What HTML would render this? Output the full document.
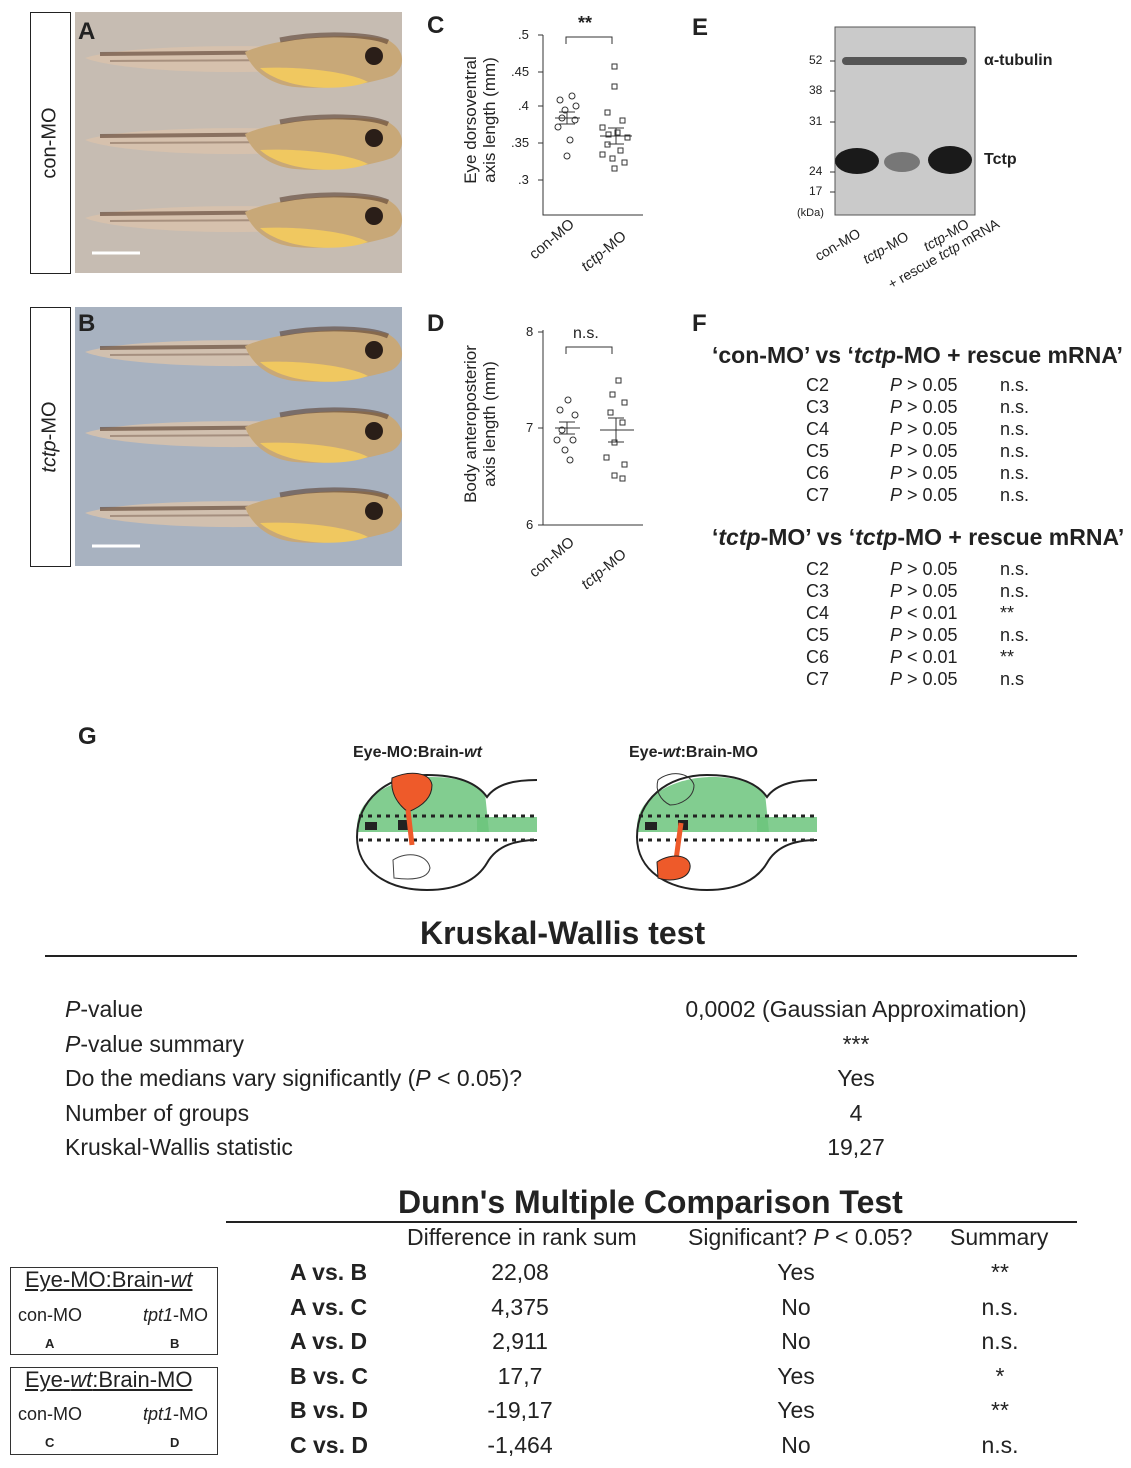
<!DOCTYPE html>
<html><head><meta charset="utf-8"><style>
body{margin:0;width:1131px;height:1468px;background:#fff;position:relative;font-family:"Liberation Sans",sans-serif;color:#222;overflow:hidden}
.a{position:absolute;white-space:nowrap}
.b{font-weight:bold}
.L{font-size:24px;font-weight:bold}
.f{font-size:16px}
.t{font-size:23px}
</style></head><body>
<svg class="a" style="left:0;top:0" width="1131" height="1468">
<defs>
<g id="tad">
<path d="M5,0 C40,-12 160,-14 230,-10 L240,10 C170,18 40,14 5,0Z" fill="#d8c2ac" opacity="0.85"/>
<path d="M20,-4 L240,-6" stroke="#6a5040" stroke-width="4" opacity="0.7"/>
<path d="M30,3 L220,2" stroke="#7a6050" stroke-width="2" opacity="0.5"/>
<path d="M165,-6 C200,-22 280,-26 308,-18 C326,-8 326,10 312,18 C290,26 250,32 215,29 C185,26 170,8 165,-6Z" fill="#c8a878"/>
<path d="M180,10 C205,32 260,34 288,24 C270,14 220,8 180,10Z" fill="#f0c860"/>
<path d="M200,-18 C240,-26 290,-24 308,-16" stroke="#5a4030" stroke-width="5" fill="none" opacity="0.6"/>
<circle cx="294" cy="-2" r="9" fill="#2a1e18"/>
</g>
<g id="fish">
<path d="M0,52 C0,20 40,2 75,2 C100,2 120,8 128,18 L132,57 L0,57Z" fill="#6cc47c" opacity="0.85"/>
<rect x="120" y="42" width="60" height="15" fill="#6cc47c" opacity="0.85"/>
<path d="M180,5 C160,5 140,8 130,22 C120,8 100,0 70,0 C30,0 0,25 0,62 C0,95 30,115 70,115 C100,115 120,105 130,88 C140,70 160,65 180,65" stroke="#222" stroke-width="2" fill="none"/>
<path d="M2,41H180M2,65H180" stroke="#222" stroke-dasharray="4 5" stroke-width="3"/>
<rect x="8" y="47" width="12" height="8" fill="#222"/><rect x="41" y="45" width="10" height="10" fill="#222"/>
</g>
</defs>
<rect x="75" y="12" width="327" height="261" fill="#c6bcb2"/>
<g transform="translate(80,58)"><use href="#tad"/></g>
<g transform="translate(80,140)"><use href="#tad"/></g>
<g transform="translate(80,218)"><use href="#tad"/></g>
<line x1="92" y1="253" x2="140" y2="253" stroke="#fff" stroke-width="3"/>
<rect x="75" y="307" width="327" height="259" fill="#a8b2c0"/>
<g transform="translate(80,352)"><use href="#tad"/></g>
<g transform="translate(80,433)"><use href="#tad"/></g>
<g transform="translate(80,513)"><use href="#tad"/></g>
<line x1="92" y1="546" x2="140" y2="546" stroke="#fff" stroke-width="3"/>
<rect x="30.5" y="12.5" width="40" height="261" fill="none" stroke="#222"/>
<rect x="30.5" y="307.5" width="40" height="259" fill="none" stroke="#222"/>
<g stroke="#333" fill="none">
<path d="M543,35 V215 H643"/>
<path d="M538,35H543M538,72H543M538,106H543M538,143H543M538,180H543"/>
<path d="M566,44V37H612V44"/>
<path d="M555,118H580M567,112V124M559,112H575M559,124H575"/>
<path d="M600,136H632M616,128V144M608,128H624M608,144H624"/>
<circle cx="560" cy="100" r="3"/><circle cx="572" cy="96" r="3"/><circle cx="565" cy="110" r="3"/><circle cx="575" cy="120" r="3"/><circle cx="558" cy="127" r="3"/><circle cx="570" cy="140" r="3"/><circle cx="567" cy="156" r="3"/><circle cx="562" cy="118" r="3"/><circle cx="576" cy="106" r="3"/>
<rect x="612" y="64" width="5" height="5"/><rect x="612" y="84" width="5" height="5"/><rect x="605" y="110" width="5" height="5"/><rect x="620" y="118" width="5" height="5"/><rect x="600" y="125" width="5" height="5"/><rect x="615" y="130" width="5" height="5"/><rect x="625" y="135" width="5" height="5"/><rect x="605" y="142" width="5" height="5"/><rect x="618" y="148" width="5" height="5"/><rect x="610" y="156" width="5" height="5"/><rect x="622" y="160" width="5" height="5"/><rect x="600" y="152" width="5" height="5"/><rect x="612" y="166" width="5" height="5"/><rect x="606" y="132" width="5" height="5"/>
</g>
<g stroke="#333" fill="none">
<path d="M543,330 V525 H643"/>
<path d="M538,332H543M538,428H543M538,525H543"/>
<path d="M566,354V347H612V354"/>
<path d="M555,428H580M567,422V434M559,422H575M559,434H575"/>
<path d="M600,430H634M616,418V442M608,418H624M608,442H624"/>
<circle cx="568" cy="400" r="3"/><circle cx="560" cy="410" r="3"/><circle cx="575" cy="415" r="3"/><circle cx="562" cy="430" r="3"/><circle cx="573" cy="440" r="3"/><circle cx="565" cy="450" r="3"/><circle cx="570" cy="460" r="3"/><circle cx="557" cy="440" r="3"/>
<rect x="616" y="378" width="5" height="5"/><rect x="610" y="392" width="5" height="5"/><rect x="622" y="400" width="5" height="5"/><rect x="608" y="410" width="5" height="5"/><rect x="620" y="420" width="5" height="5"/><rect x="612" y="440" width="5" height="5"/><rect x="604" y="455" width="5" height="5"/><rect x="622" y="462" width="5" height="5"/><rect x="612" y="473" width="5" height="5"/><rect x="620" y="476" width="5" height="5"/>
</g>
<rect x="835" y="27" width="140" height="188" fill="#cacaca" stroke="#555"/>
<rect x="842" y="57" width="125" height="8" rx="4" fill="#555"/>
<ellipse cx="857" cy="161" rx="22" ry="13" fill="#1a1a1a"/>
<ellipse cx="902" cy="162" rx="18" ry="10" fill="#777"/>
<ellipse cx="950" cy="160" rx="22" ry="14" fill="#1a1a1a"/>
<g stroke="#333"><path d="M830,61H835M830,91H835M830,122H835M830,172H835M830,192H835"/></g>
<g transform="translate(357,775)"><use href="#fish"/></g>
<g transform="translate(637,775)"><use href="#fish"/></g>
<path d="M392,778 C410,770 430,772 432,785 C432,800 418,808 408,812 C400,806 390,795 392,778Z" fill="#ee5a2a" stroke="#222"/>
<path d="M408,810 L412,845" stroke="#ee5a2a" stroke-width="5"/>
<path d="M393,860 C408,850 428,855 430,868 C428,880 410,880 394,878Z" fill="#fff" stroke="#444"/>
<path d="M658,780 C670,770 690,772 694,785 C694,798 680,805 670,805 C660,800 655,790 658,780Z" fill="none" stroke="#333"/>
<path d="M681,823 L676,860" stroke="#ee5a2a" stroke-width="5"/>
<path d="M657,862 C672,852 692,855 690,868 C688,880 670,882 658,878Z" fill="#ee5a2a" stroke="#222"/>
<line x1="45" y1="956" x2="1077" y2="956" stroke="#222" stroke-width="2"/>
<line x1="226" y1="1222" x2="1077" y2="1222" stroke="#222" stroke-width="2"/>
<rect x="10.5" y="1267.5" width="207" height="87" fill="none" stroke="#333"/>
<rect x="10.5" y="1367.5" width="207" height="87" fill="none" stroke="#333"/>
</svg>
<div class="a L" style="left:78px;top:18px">A</div>
<div class="a L" style="left:78px;top:310px">B</div>
<div class="a L" style="left:427px;top:12px">C</div>
<div class="a L" style="left:427px;top:310px">D</div>
<div class="a L" style="left:692px;top:14px">E</div>
<div class="a L" style="left:692px;top:310px">F</div>
<div class="a L" style="left:78px;top:723px">G</div>
<div class="a" style="font-size:20px;left:50px;top:143px;transform:translate(-50%,-50%) rotate(-90deg)">con-MO</div>
<div class="a" style="font-size:20px;left:50px;top:437px;transform:translate(-50%,-50%) rotate(-90deg)"><i>tctp</i>-MO</div>
<div class="a" style="font-size:17px;left:480px;top:120px;transform:translate(-50%,-50%) rotate(-90deg);text-align:center;line-height:19px">Eye dorsoventral<br>axis length (mm)</div>
<div class="a" style="font-size:17px;left:480px;top:424px;transform:translate(-50%,-50%) rotate(-90deg);text-align:center;line-height:19px">Body anteroposterior<br>axis length (mm)</div>
<div class="a" style="font-size:13px;left:518px;top:27px">.5</div>
<div class="a" style="font-size:13px;left:511px;top:64px">.45</div>
<div class="a" style="font-size:13px;left:518px;top:98px">.4</div>
<div class="a" style="font-size:13px;left:511px;top:135px">.35</div>
<div class="a" style="font-size:13px;left:518px;top:172px">.3</div>
<div class="a b" style="font-size:18px;left:578px;top:13px">**</div>
<div class="a" style="font-size:13px;left:526px;top:324px">8</div>
<div class="a" style="font-size:13px;left:526px;top:420px">7</div>
<div class="a" style="font-size:13px;left:526px;top:517px">6</div>
<div class="a f" style="left:573px;top:325px">n.s.</div>
<div class="a" style="font-size:15px;left:526px;top:250px;transform:rotate(-40deg);transform-origin:left top">con-MO</div>
<div class="a" style="font-size:15px;left:578px;top:262px;transform:rotate(-40deg);transform-origin:left top"><i>tctp</i>-MO</div>
<div class="a" style="font-size:15px;left:526px;top:568px;transform:rotate(-40deg);transform-origin:left top">con-MO</div>
<div class="a" style="font-size:15px;left:578px;top:580px;transform:rotate(-40deg);transform-origin:left top"><i>tctp</i>-MO</div>
<div class="a" style="font-size:12px;left:809px;top:53px">52</div>
<div class="a" style="font-size:12px;left:809px;top:83px">38</div>
<div class="a" style="font-size:12px;left:809px;top:114px">31</div>
<div class="a" style="font-size:12px;left:809px;top:164px">24</div>
<div class="a" style="font-size:12px;left:809px;top:184px">17</div>
<div class="a" style="font-size:11px;left:797px;top:207px">(kDa)</div>
<div class="a b f" style="left:984px;top:52px">α-tubulin</div>
<div class="a b f" style="left:984px;top:151px">Tctp</div>
<div class="a" style="font-size:14px;left:812px;top:250px;transform:rotate(-30deg);transform-origin:left top">con-MO</div>
<div class="a" style="font-size:14px;left:860px;top:253px;transform:rotate(-30deg);transform-origin:left top"><i>tctp</i>-MO</div>
<div class="a" style="font-size:14px;left:878px;top:266px;transform:rotate(-30deg);transform-origin:left top;line-height:15px;text-align:center">&nbsp;&nbsp;&nbsp;&nbsp;&nbsp;&nbsp;<i>tctp</i>-MO<br>+ rescue <i>tctp</i> mRNA</div>
<div class="a b" style="font-size:23px;left:712px;top:342px">‘con-MO’ vs ‘<i>tctp</i>-MO + rescue mRNA’</div>
<div class="a b" style="font-size:23px;left:712px;top:524px">‘<i>tctp</i>-MO’ vs ‘<i>tctp</i>-MO + rescue mRNA’</div>
<div class="a" style="font-size:18px;left:806px;top:374px;line-height:22px">C2<br>C3<br>C4<br>C5<br>C6<br>C7</div>
<div class="a" style="font-size:18px;left:890px;top:374px;line-height:22px"><i>P</i> &gt; 0.05<br><i>P</i> &gt; 0.05<br><i>P</i> &gt; 0.05<br><i>P</i> &gt; 0.05<br><i>P</i> &gt; 0.05<br><i>P</i> &gt; 0.05</div>
<div class="a" style="font-size:18px;left:1000px;top:374px;line-height:22px">n.s.<br>n.s.<br>n.s.<br>n.s.<br>n.s.<br>n.s.</div>
<div class="a" style="font-size:18px;left:806px;top:558px;line-height:22px">C2<br>C3<br>C4<br>C5<br>C6<br>C7</div>
<div class="a" style="font-size:18px;left:890px;top:558px;line-height:22px"><i>P</i> &gt; 0.05<br><i>P</i> &gt; 0.05<br><i>P</i> &lt; 0.01<br><i>P</i> &gt; 0.05<br><i>P</i> &lt; 0.01<br><i>P</i> &gt; 0.05</div>
<div class="a" style="font-size:18px;left:1000px;top:558px;line-height:22px">n.s.<br>n.s.<br>**<br>n.s.<br>**<br>n.s</div>
<div class="a b f" style="left:353px;top:744px">Eye-MO:Brain-<i>wt</i></div>
<div class="a b f" style="left:629px;top:744px">Eye-<i>wt</i>:Brain-MO</div>
<div class="a b" style="font-size:32px;left:420px;top:915px">Kruskal-Wallis test</div>
<div class="a t" style="left:65px;top:992px;line-height:34.5px"><i>P</i>-value<br><i>P</i>-value summary<br>Do the medians vary significantly (<i>P</i> &lt; 0.05)?<br>Number of groups<br>Kruskal-Wallis statistic</div>
<div class="a t" style="left:670px;top:992px;line-height:34.5px;width:372px;text-align:center">0,0002 (Gaussian Approximation)<br>***<br>Yes<br>4<br>19,27</div>
<div class="a b" style="font-size:32px;left:398px;top:1184px">Dunn's Multiple Comparison Test</div>
<div class="a t" style="left:407px;top:1224px">Difference in rank sum</div>
<div class="a t" style="left:688px;top:1224px">Significant? <i>P</i> &lt; 0.05?</div>
<div class="a t" style="left:950px;top:1224px">Summary</div>
<div class="a t b" style="left:290px;top:1255px;line-height:34.5px">A vs. B<br>A vs. C<br>A vs. D<br>B vs. C<br>B vs. D<br>C vs. D</div>
<div class="a t" style="left:440px;top:1255px;line-height:34.5px;width:160px;text-align:center">22,08<br>4,375<br>2,911<br>17,7<br>-19,17<br>-1,464</div>
<div class="a t" style="left:746px;top:1255px;line-height:34.5px;width:100px;text-align:center">Yes<br>No<br>No<br>Yes<br>Yes<br>No</div>
<div class="a t" style="left:950px;top:1255px;line-height:34.5px;width:100px;text-align:center">**<br>n.s.<br>n.s.<br>*<br>**<br>n.s.</div>
<div class="a" style="font-size:22px;left:25px;top:1267px;text-decoration:underline">Eye-MO:Brain-<i>wt</i></div>
<div class="a" style="font-size:18px;left:18px;top:1305px">con-MO</div>
<div class="a" style="font-size:18px;left:143px;top:1305px"><i>tpt1</i>-MO</div>
<div class="a b" style="font-size:13px;left:45px;top:1336px">A</div>
<div class="a b" style="font-size:13px;left:170px;top:1336px">B</div>
<div class="a" style="font-size:22px;left:25px;top:1367px;text-decoration:underline">Eye-<i>wt</i>:Brain-MO</div>
<div class="a" style="font-size:18px;left:18px;top:1404px">con-MO</div>
<div class="a" style="font-size:18px;left:143px;top:1404px"><i>tpt1</i>-MO</div>
<div class="a b" style="font-size:13px;left:45px;top:1435px">C</div>
<div class="a b" style="font-size:13px;left:170px;top:1435px">D</div>
</body></html>
